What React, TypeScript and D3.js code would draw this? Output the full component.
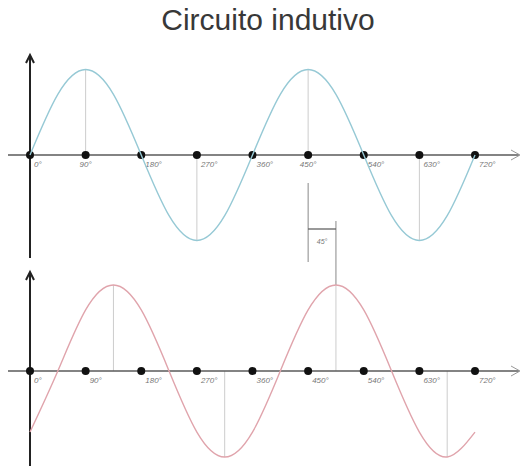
import React from 'react';
import * as d3 from 'd3';

const angles = [0, 45, 90, 135, 180, 225, 270, 315, 360, 405, 450, 495, 540, 585, 630, 675, 720];
const voltage = [0, 0.71, 1, 0.71, 0, -0.71, -1, -0.71, 0, 0.71, 1, 0.71, 0, -0.71, -1, -0.71, 0];
const current = [-0.71, 0, 0.71, 1, 0.71, 0, -0.71, -1, -0.71, 0, 0.71, 1, 0.71, 0, -0.71, -1, -0.71];

const tickAngles = [0, 90, 180, 270, 360, 450, 540, 630, 720];
const tickLabels = ['0°', '90°', '180°', '270°', '360°', '450°', '540°', '630°', '720°'];
const voltageDrops = [90, 270, 450, 630];
const currentDrops = [135, 315, 495, 675];
const lagLabel = '45°';

const W = 521;
const H = 466;

export default function App() {
  const x = d3.scaleLinear().domain([0, 720]).range([30, 475]);
  const yTop = d3.scaleLinear().domain([-1, 1]).range([240.5, 69.5]);
  const yBot = d3.scaleLinear().domain([-1, 1]).range([457, 285]);
  const axisTop = yTop(0);
  const axisBot = yBot(0);

  const line = (vals: number[], y: d3.ScaleLinear<number, number>) =>
    d3.line<number>()
      .x((_, i) => x(angles[i]))
      .y(d => y(d))
      .curve(d3.curveNatural)(vals) || '';

  const valAt = (vals: number[], a: number) => vals[angles.indexOf(a)];

  const axis = (y0: number, vTop: number, vBot: number, center: boolean) => (
    <g>
      <line x1={8} x2={519} y1={y0} y2={y0} stroke="#5a5a5a" strokeWidth={1.3} />
      <path d={`M${511},${y0 - 5}L${520},${y0}L${511},${y0 + 5}`} fill="none" stroke="#999" strokeWidth={1} />
      <line x1={x(0)} x2={x(0)} y1={vTop + 2} y2={vBot} stroke="#222" strokeWidth={2} />
      <path d={`M${x(0) - 4},${vTop + 8}L${x(0)},${vTop}L${x(0) + 4},${vTop + 8}`} fill="none" stroke="#222" strokeWidth={2} />
      {tickAngles.map((a, i) => (
        <g key={a}>
          <circle cx={x(a)} cy={y0} r={4} fill="#111" />
          <text
            x={center && (a === 90 || a === 450) ? x(a) : x(a) + 4}
            y={y0 + 12}
            fontSize={8}
            fill="#777"
            textAnchor={center && (a === 90 || a === 450) ? 'middle' : 'start'}
            fontFamily="Liberation Sans, Arial, sans-serif"
            fontStyle="italic"
          >{tickLabels[i]}</text>
        </g>
      ))}
    </g>
  );

  return (
    <svg width={W} height={H} style={{ position: 'absolute', left: 0, top: 0 }}>
      <rect width={W} height={H} fill="#fff" />
      <text x={268} y={30} textAnchor="middle" fontSize={30} fill="#383838"
        fontFamily="Liberation Sans, Arial, sans-serif">Circuito indutivo</text>

      {/* drop lines */}
      {voltageDrops.map(a => (
        <line key={'v' + a} x1={x(a)} x2={x(a)} y1={axisTop} y2={yTop(valAt(voltage, a))} stroke="#cccccc" strokeWidth={1} />
      ))}
      {currentDrops.map(a => (
        <line key={'c' + a} x1={x(a)} x2={x(a)} y1={axisBot} y2={yBot(valAt(current, a))} stroke="#cccccc" strokeWidth={1} />
      ))}

      {/* 45 degree lag marker */}
      <line x1={x(450)} x2={x(450)} y1={183} y2={262} stroke="#888" strokeWidth={1} />
      <line x1={x(495)} x2={x(495)} y1={221} y2={yBot(1)} stroke="#888" strokeWidth={1} />
      <line x1={x(450)} x2={x(495)} y1={229} y2={229} stroke="#555" strokeWidth={1.2} />
      <text x={(x(450) + x(495)) / 2} y={244} textAnchor="middle" fontSize={7} fill="#777"
        fontFamily="Liberation Sans, Arial, sans-serif" fontStyle="italic">{lagLabel}</text>

      {axis(axisTop, 55, 258, true)}
      {axis(axisBot, 272, 466, false)}

      <path d={line(voltage, yTop)} fill="none" stroke="#96c9d5" strokeWidth={1.4} />
      <path d={line(current, yBot)} fill="none" stroke="#e0a4ac" strokeWidth={1.4} />
    </svg>
  );
}
